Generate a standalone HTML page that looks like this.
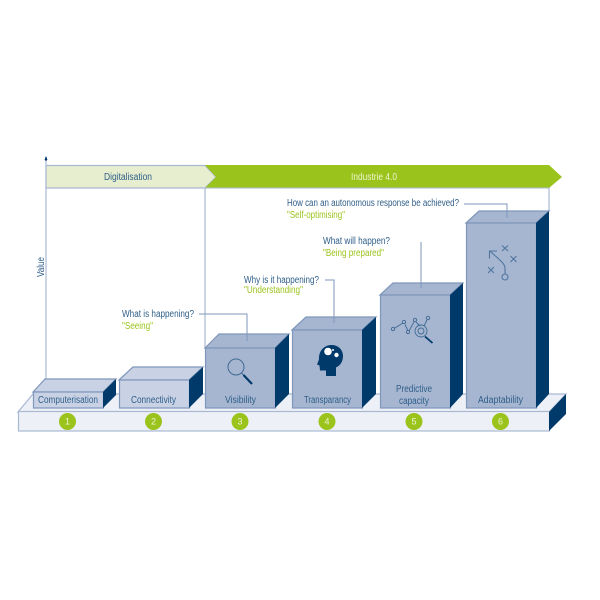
<!DOCTYPE html>
<html><head><meta charset="utf-8"><style>
html,body{margin:0;padding:0;background:#fff;width:600px;height:600px;overflow:hidden}
svg{display:block;font-family:"Liberation Sans",sans-serif;filter:blur(0.35px)}
</style></head><body>
<svg width="600" height="600" viewBox="0 0 600 600">
<g fill="none" stroke="#a9b9d2" stroke-width="1.2">
<path d="M46 160V385"/><path d="M205 186V348"/><path d="M549 186V211"/>
</g>
<path d="M46 161V157" stroke="#003a6b" stroke-width="1.2"/>
<path d="M46 156l-1.500 4h3z" fill="#003a6b"/>
<path d="M46 165.500H205L216 177 205 188H46Z" fill="#e6eecf" stroke="#a9b9d2" stroke-width="1.2"/>
<path d="M205 165H549L562 177 549 188H205L216 177Z" fill="#9ac31c"/>
<path d="M205 188H549" stroke="#a9b9d2" stroke-width="1"/>
<!-- platform -->
<path d="M18 412L33 394H566L549 412Z" fill="#eef0f7" stroke="#a9b9d2" stroke-width="1.2"/>
<rect x="18.500" y="411.500" width="531" height="19.500" fill="#eef0f7" stroke="#a9b9d2" stroke-width="1.2"/>
<path d="M549 412L566 394V414L549 431Z" fill="#003a6b"/>
<!-- bars -->
<g stroke="#7f97bb" stroke-width="1.2">
<path d="M33 392L45 379H116L103 392Z" fill="#c9d2e5"/>
<rect x="33.500" y="392" width="70" height="16" fill="#c9d2e5"/>
<path d="M103 392L116 379V395L103 408Z" fill="#003a6b" stroke="none"/>
<path d="M119 380L133 367H203L189 380Z" fill="#c9d2e5"/>
<rect x="119.500" y="380" width="70" height="28" fill="#c9d2e5"/>
<path d="M189 380L203 367V394L189 408Z" fill="#003a6b" stroke="none"/>
<path d="M205 348L219 334H289L275 348Z" fill="#a6b6d1"/>
<rect x="205.500" y="348" width="70" height="60" fill="#a6b6d1"/>
<path d="M275 348L289 334V394L275 408Z" fill="#003a6b" stroke="none"/>
<path d="M292 330L306 317H376L362 330Z" fill="#a6b6d1"/>
<rect x="292.500" y="330" width="70" height="78" fill="#a6b6d1"/>
<path d="M362 330L376 317V394L362 408Z" fill="#003a6b" stroke="none"/>
<path d="M380 295L393 283H463L450 295Z" fill="#a6b6d1"/>
<rect x="380.500" y="295" width="70" height="113" fill="#a6b6d1"/>
<path d="M450 295L463 283V394L450 408Z" fill="#003a6b" stroke="none"/>
<path d="M466 223L479 211H549L536 223Z" fill="#a6b6d1"/>
<rect x="466.500" y="223" width="70" height="185" fill="#a6b6d1"/>
<path d="M536 223L549 211V394L536 408Z" fill="#003a6b" stroke="none"/>
</g>
<!-- leaders -->
<g fill="none" stroke="#7f97bb" stroke-width="1">
<path d="M199 314H247V341"/>
<path d="M325 280H334V323"/>
<path d="M421 242V288"/>
<path d="M464 204H507V218"/>
</g>
<!-- circles -->
<g fill="#9ac31c">
<circle cx="67.500" cy="421.500" r="8.500"/><circle cx="153.500" cy="421.500" r="8.500"/><circle cx="240" cy="421.500" r="8.500"/>
<circle cx="327" cy="421.500" r="8.500"/><circle cx="414" cy="421.500" r="8.500"/><circle cx="500.500" cy="421.500" r="8.500"/>
</g>
<g fill="#eef4d0" font-size="9" text-anchor="middle">
<text x="67.500" y="424.500">1</text><text x="153.500" y="424.500">2</text><text x="240" y="424.500">3</text>
<text x="327" y="424.500">4</text><text x="414" y="424.500">5</text><text x="500.500" y="424.500">6</text>
</g>
<!-- icons -->
<circle cx="236" cy="367" r="8" fill="none" stroke="#3f6a94" stroke-width="1"/>
<path d="M241.500 373L244 375.500" stroke="#3f6a94" stroke-width="1"/>
<path d="M243.500 375L252 384" stroke="#003a6b" stroke-width="2.200"/>
<path d="M326 376V370.500L320 370.500 319.500 365.500 317 364.500 319 359.500C318.500 350 325 345 331.500 345 338.500 345 343 350 343 356 343 362 340 365.500 336 367.500V376Z" fill="#003a6b"/>
<g fill="#fff"><circle cx="328" cy="351.500" r="3.800"/><circle cx="336.500" cy="355" r="2.200"/><circle cx="333" cy="350" r="1"/></g>
<g fill="none" stroke="#3f6a94" stroke-width="0.900">
<path d="M394 328.500L403 323M405 324.500L408 331M409 331L414 322M416 322L420 326M424 326L427 320"/>
<circle cx="393" cy="329" r="1.700"/><circle cx="404" cy="322" r="1.700"/><circle cx="408" cy="332" r="1.700"/><circle cx="415" cy="320" r="1.700"/><circle cx="428" cy="318" r="1.700"/>
<circle cx="421" cy="331" r="6"/><circle cx="421" cy="331" r="3"/>
</g>
<path d="M425 336.500L432.500 343" stroke="#003a6b" stroke-width="1.800"/>
<g fill="none" stroke="#4f769e" stroke-width="1.100">
<circle cx="505" cy="277" r="3"/>
<path d="M505 274V268C505 263 497 258 490 251"/>
<path d="M489.500 258.500V251H497"/>
<path d="M502 245.500L508 251M508 245.500L502 251"/>
<path d="M510.500 256L516.500 262M516.500 256L510.500 262"/>
<path d="M488 267L494 273M494 267L488 273"/>
</g>
<!-- text -->
<g font-size="10" fill="#2f5e88">
<text x="104" y="180" textLength="48" lengthAdjust="spacingAndGlyphs">Digitalisation</text>
<text x="38" y="403" textLength="60" lengthAdjust="spacingAndGlyphs">Computerisation</text>
<text x="131" y="403" textLength="45" lengthAdjust="spacingAndGlyphs">Connectivity</text>
<text x="225" y="403" textLength="31" lengthAdjust="spacingAndGlyphs">Visibility</text>
<text x="304" y="403" textLength="47" lengthAdjust="spacingAndGlyphs">Transparancy</text>
<text x="396" y="392" textLength="36" lengthAdjust="spacingAndGlyphs">Predictive</text>
<text x="399" y="404" textLength="30" lengthAdjust="spacingAndGlyphs">capacity</text>
<text x="478" y="403" textLength="45" lengthAdjust="spacingAndGlyphs">Adaptability</text>
<text x="122" y="317" textLength="72" lengthAdjust="spacingAndGlyphs">What is happening?</text>
<text x="244" y="283" textLength="75" lengthAdjust="spacingAndGlyphs">Why is it happening?</text>
<text x="323" y="244" textLength="67" lengthAdjust="spacingAndGlyphs">What will happen?</text>
<text x="287" y="206" textLength="172" lengthAdjust="spacingAndGlyphs">How can an autonomous response be achieved?</text>
<text transform="translate(44,277) rotate(-90)" textLength="20" lengthAdjust="spacingAndGlyphs">Value</text>
</g>
<text x="351" y="180" font-size="10" fill="#eef4d0" textLength="46" lengthAdjust="spacingAndGlyphs">Industrie 4.0</text>
<g font-size="10" fill="#9ac31c">
<text x="122" y="329" textLength="31" lengthAdjust="spacingAndGlyphs">"Seeing"</text>
<text x="244" y="293" textLength="59" lengthAdjust="spacingAndGlyphs">"Understanding"</text>
<text x="323" y="256" textLength="61" lengthAdjust="spacingAndGlyphs">"Being prepared"</text>
<text x="287" y="218" textLength="58" lengthAdjust="spacingAndGlyphs">"Self-optimising"</text>
</g>
</svg>
</body></html>
